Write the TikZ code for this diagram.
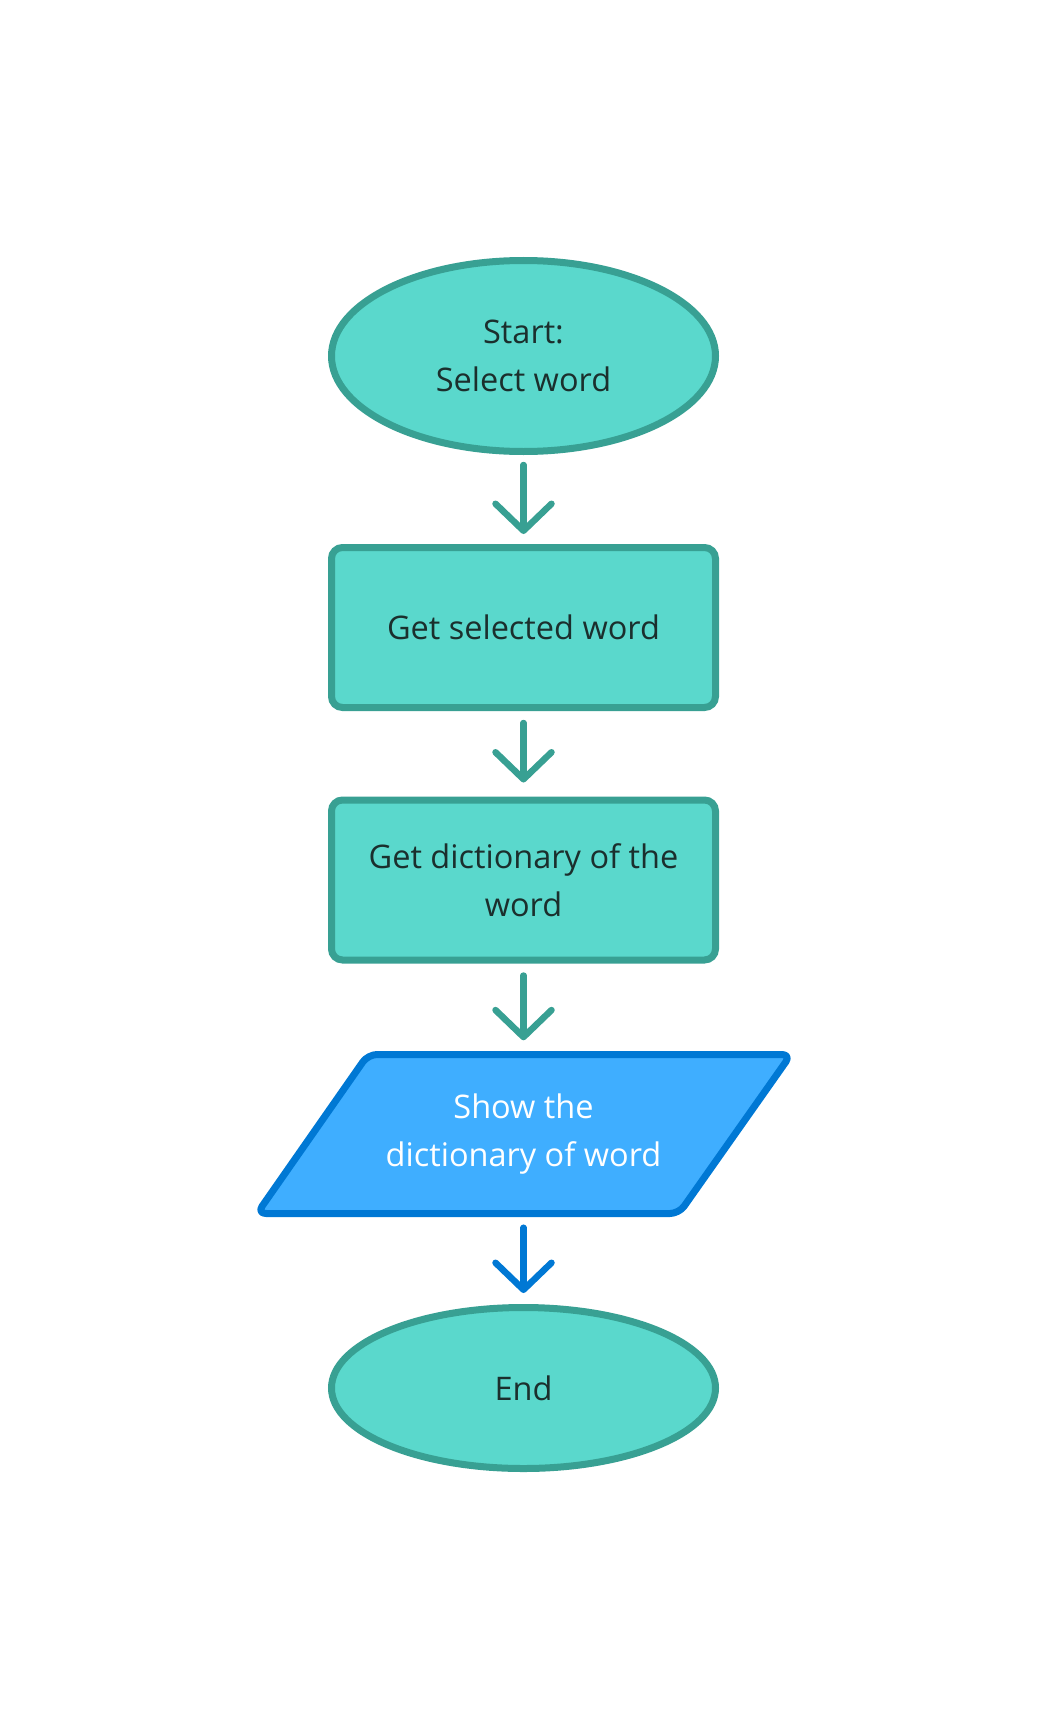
\documentclass[tikz,border=0pt]{standalone}
\usepackage{fontspec}
\setmainfont{Open Sans}
\usetikzlibrary{shapes.geometric,arrows.meta}
\definecolor{tealfill}{HTML}{5AD8CC}
\definecolor{tealline}{HTML}{38A093}
\definecolor{bluefill}{HTML}{3FAEFF}
\definecolor{blueline}{HTML}{0078D4}
\definecolor{txt}{HTML}{1B2F2D}
\tikzset{
  every node/.style={font=\fontsize{32.5}{48.5}\selectfont, text=txt, align=center},
  term/.style={ellipse, draw=tealline, fill=tealfill, line width=7pt, inner sep=0pt},
  procbox/.style={rectangle, rounded corners=11pt, draw=tealline, fill=tealfill, line width=7pt, minimum width=384pt, minimum height=160pt, inner sep=0pt},
  flow/.style={line width=6.5pt, line cap=round, -{Straight Barb[length=27pt,width=56pt,line cap=round,line join=round]}},
}
\begin{document}
\begin{tikzpicture}[x=1pt,y=-1pt]
\useasboundingbox (0,0) rectangle (1049,1728);
\node[term, minimum width=384pt, minimum height=191pt] (start) at (523.5,356) {Start:\\Select word};
\node[procbox] (get) at (523.5,627.5) {Get selected word};
\node[procbox] (dict) at (523.5,880) {Get dictionary of the\\word};
\draw[draw=blueline, fill=bluefill, line width=7pt, rounded corners=9pt, line join=round]
  (368,1054.5) -- (791,1054.5) -- (679,1213.5) -- (257,1213.5) -- cycle;
\node[text=white, minimum height=159pt, inner sep=0pt] (show) at (523.5,1134) {Show the\\dictionary of word};
\node[term, minimum width=384pt, minimum height=161pt] (end) at (523.5,1388) {End};
\draw[flow, draw=tealline, shorten <=10pt, shorten >=10pt] (start) -- (get);
\draw[flow, draw=tealline, shorten <=12pt, shorten >=14pt] (get) -- (dict);
\draw[flow, draw=tealline, shorten <=12pt, shorten >=14pt] (dict) -- (show);
\draw[flow, draw=blueline, shorten <=14pt, shorten >=11pt] (show) -- (end);
\end{tikzpicture}
\end{document}
